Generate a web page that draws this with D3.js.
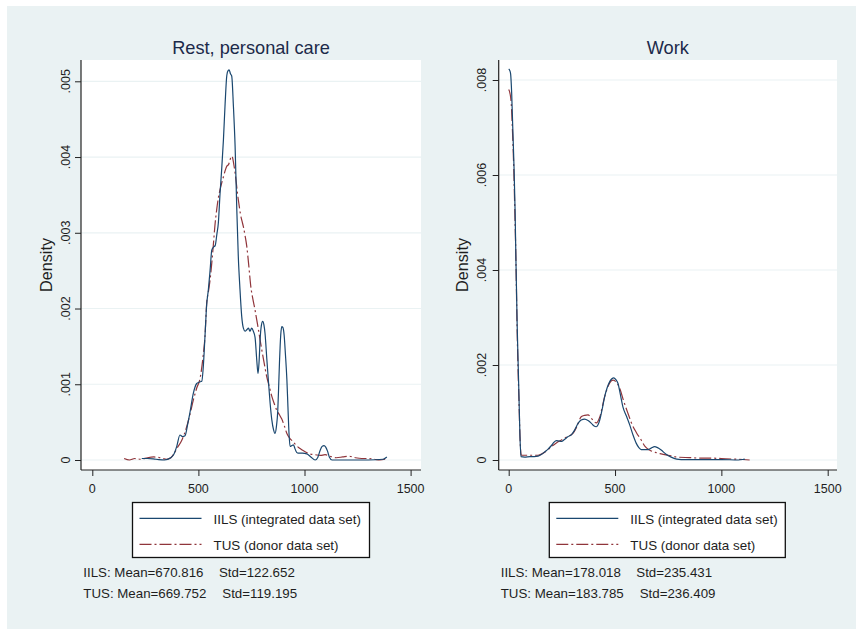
<!DOCTYPE html>
<html>
<head>
<meta charset="utf-8">
<script src="https://cdn.jsdelivr.net/npm/d3@7"></script>
<style>
  html, body { margin: 0; padding: 0; background: #ffffff; }
  svg { display: block; font-family: "Liberation Sans", Arial, sans-serif; }
</style>
</head>
<body>
<svg id="chart" width="858" height="630"></svg>
<script>
// Kernel density estimates (minutes per day) for the two activity groups.
const restIILS = [
  [233,0.00002],[260,0.00002],[300,0.00001],[340,0.00000],[370,0.00003],[385,0.00008],
  [398,0.00018],[413,0.00033],[425,0.00031],[437,0.00032],[450,0.00048],[461,0.00064],
  [476,0.00088],[492,0.00101],[505,0.00103],[516,0.00104],[523,0.00123],[531,0.00163],
  [539,0.00205],[547,0.00225],[555,0.00250],[563,0.00277],[571,0.00281],[579,0.00283],
  [587,0.00298],[594,0.00313],[602,0.00352],[610,0.00385],[618,0.00423],[626,0.00471],
  [634,0.00508],[640,0.00514],[645,0.00515],[651,0.00510],[657,0.00507],[665,0.00467],
  [673,0.00414],[681,0.00330],[688,0.00269],[696,0.00225],[704,0.00190],[712,0.00174],
  [720,0.00170],[728,0.00172],[736,0.00174],[743,0.00170],[751,0.00174],[759,0.00170],
  [767,0.00162],[775,0.00132],[781,0.00114],[786,0.00130],[791,0.00160],[797,0.00178],
  [803,0.00183],[809,0.00178],[814,0.00167],[822,0.00135],[830,0.00104],[838,0.00075],
  [846,0.00053],[854,0.00040],[861,0.00035],[868,0.00045],[874,0.00065],[878,0.00095],
  [882,0.00128],[888,0.00165],[893,0.00176],[898,0.00175],[904,0.00165],[910,0.00140],
  [917,0.00106],[922,0.00070],[927,0.00035],[932,0.00018],[940,0.00019],[948,0.00020],
  [955,0.00015],[963,0.00010],[971,0.00009],[990,0.00009],[1011,0.00008],[1030,0.00004],
  [1050,0.00000],[1062,0.00003],[1074,0.00013],[1083,0.00018],[1092,0.00019],[1100,0.00017],
  [1108,0.00012],[1117,0.00004],[1130,0.00000],[1200,0.00000],[1300,0.00000],[1370,0.00001],
  [1388,0.00004]
];
const restTUS = [
  [150,0.00002],[175,0.00000],[200,0.00002],[230,0.00001],[260,0.00003],[290,0.00004],
  [320,0.00003],[350,0.00001],[370,0.00003],[382,0.00007],[400,0.00016],[420,0.00025],
  [445,0.00044],[460,0.00060],[476,0.00079],[492,0.00095],[508,0.00108],[523,0.00139],
  [531,0.00163],[539,0.00207],[547,0.00222],[555,0.00238],[563,0.00260],[571,0.00286],
  [578,0.00310],[586,0.00330],[594,0.00346],[602,0.00357],[610,0.00366],[618,0.00374],
  [626,0.00382],[634,0.00388],[642,0.00390],[649,0.00396],[655,0.00401],[660,0.00400],
  [667,0.00390],[673,0.00379],[679,0.00365],[684,0.00352],[690,0.00340],[698,0.00325],
  [705,0.00316],[712,0.00308],[720,0.00296],[728,0.00282],[737,0.00258],[747,0.00229],
  [757,0.00212],[767,0.00198],[775,0.00185],[783,0.00172],[791,0.00158],[799,0.00145],
  [810,0.00128],[822,0.00110],[834,0.00097],[846,0.00084],[858,0.00074],[869,0.00066],
  [881,0.00060],[893,0.00054],[905,0.00045],[917,0.00035],[930,0.00029],[943,0.00025],
  [956,0.00021],[970,0.00017],[985,0.00014],[1003,0.00011],[1025,0.00008],[1050,0.00007],
  [1075,0.00006],[1097,0.00007],[1120,0.00005],[1150,0.00003],[1180,0.00004],[1210,0.00005],
  [1240,0.00003],[1270,0.00002],[1300,0.00002],[1330,0.00001],[1355,0.00000],[1380,0.00001]
];
const workIILS = [
  [0,0.00823],[5,0.00820],[9,0.00813],[14,0.00772],[19,0.00701],[25,0.00617],[30,0.00526],
  [34,0.00421],[40,0.00281],[44,0.00210],[48,0.00140],[53,0.00049],[58,0.00007],[75,0.00006],
  [100,0.00007],[120,0.00007],[138,0.00008],[155,0.00012],[169,0.00017],[185,0.00023],
  [200,0.00030],[212,0.00037],[224,0.00041],[236,0.00040],[248,0.00039],[262,0.00043],
  [278,0.00049],[294,0.00053],[310,0.00063],[326,0.00077],[341,0.00084],[357,0.00086],
  [373,0.00083],[389,0.00077],[400,0.00072],[412,0.00070],[420,0.00074],[428,0.00084],
  [440,0.00108],[451,0.00133],[463,0.00152],[475,0.00165],[485,0.00171],[494,0.00173],
  [504,0.00169],[514,0.00161],[525,0.00138],[537,0.00112],[553,0.00093],[569,0.00074],
  [585,0.00052],[600,0.00035],[612,0.00026],[623,0.00022],[640,0.00022],[655,0.00022],
  [670,0.00025],[686,0.00028],[700,0.00026],[717,0.00021],[740,0.00012],[764,0.00006],
  [790,0.00002],[811,0.00001],[900,0.00001],[1000,0.00001],[1080,0.00000],[1100,0.00001],
  [1110,0.00002]
];
const workTUS = [
  [0,0.00780],[6,0.00772],[12,0.00750],[18,0.00690],[24,0.00610],[29,0.00520],[34,0.00420],
  [39,0.00290],[44,0.00190],[48,0.00130],[53,0.00050],[58,0.00012],[60,0.00010],[90,0.00010],
  [120,0.00010],[138,0.00010],[160,0.00014],[180,0.00020],[200,0.00028],[224,0.00036],
  [248,0.00042],[275,0.00049],[302,0.00056],[320,0.00070],[341,0.00091],[357,0.00094],
  [373,0.00095],[392,0.00086],[412,0.00078],[428,0.00090],[451,0.00133],[470,0.00158],
  [491,0.00168],[507,0.00163],[522,0.00151],[540,0.00125],[561,0.00098],[580,0.00075],
  [600,0.00058],[623,0.00042],[642,0.00028],[662,0.00021],[690,0.00016],[717,0.00013],
  [750,0.00010],[795,0.00006],[850,0.00005],[900,0.00004],[952,0.00004],[1000,0.00003],
  [1050,0.00002],[1100,0.00001],[1133,0.00000]
];

const xTicks = [0, 500, 1000, 1500];
const restYTicks = [0, 0.001, 0.002, 0.003, 0.004, 0.005];
const workYTicks = [0, 0.002, 0.004, 0.006, 0.008];
const panelTitles = ["Rest, personal care", "Work"];
const legendLabels = ["IILS (integrated data set)", "TUS (donor data set)"];
const restStats = [["IILS: Mean=670.816", "Std=122.652"], ["TUS: Mean=669.752", "Std=119.195"]];
const workStats = [["IILS: Mean=178.018", "Std=235.431"], ["TUS: Mean=183.785", "Std=236.409"]];

const C = {
  bg: "#eaf2f3", grid: "#eaf2f3", navy: "#1a476f", maroon: "#90353b",
  title: "#1c2a4a", text: "#1e1e1e", axis: "#222222"
};
const DASH = "12,3,2,3";

const svg = d3.select("#chart");
svg.append("rect").attr("x", 7).attr("y", 6).attr("width", 849).attr("height", 623).attr("fill", C.bg);

function fmtTick(d) {
  return d === 0 ? "0" : d3.format(".3f")(d).replace(/^0/, "");
}

function drawPanel(p) {
  const g = svg.append("g");
  const x = d3.scaleLinear().domain([0, 1500]).range([p.x0, p.x1500]);
  const y = d3.scaleLinear().domain([0, p.yTicks[p.yTicks.length - 1]]).range([p.yZero, p.yTop]);

  // plot region
  g.append("rect").attr("x", p.left).attr("y", p.top)
    .attr("width", p.right - p.left).attr("height", p.bottom - p.top).attr("fill", "#ffffff");

  // gridlines
  g.selectAll("line.grid").data(p.yTicks).join("line")
    .attr("x1", p.left).attr("x2", p.right)
    .attr("y1", d => y(d)).attr("y2", d => y(d))
    .attr("stroke", C.grid).attr("stroke-width", 1.2);

  // y axis
  const ya = g.append("g").attr("transform", `translate(${p.left},0)`)
    .call(d3.axisLeft(y).tickValues(p.yTicks).tickSize(6).tickSizeOuter(0).tickFormat(""));
  ya.select(".domain").remove();
  ya.selectAll("line").attr("stroke", C.axis);
  g.append("line").attr("x1", p.left).attr("x2", p.left).attr("y1", p.top).attr("y2", p.bottom)
    .attr("stroke", C.axis).attr("stroke-width", 1.2);
  g.selectAll("text.ytick").data(p.yTicks).join("text")
    .attr("class", "ytick")
    .attr("transform", d => `translate(${p.yLabelX},${y(d)}) rotate(-90)`)
    .attr("text-anchor", "middle").attr("font-size", 12.5).attr("fill", C.text)
    .text(fmtTick);

  // x axis
  const xa = g.append("g").attr("transform", `translate(0,${p.bottom})`)
    .call(d3.axisBottom(x).tickValues(xTicks).tickSize(6).tickSizeOuter(0).tickFormat(""));
  xa.select(".domain").remove();
  xa.selectAll("line").attr("stroke", C.axis);
  g.append("line").attr("x1", p.left).attr("x2", p.right).attr("y1", p.bottom).attr("y2", p.bottom)
    .attr("stroke", C.axis).attr("stroke-width", 1.2);
  g.selectAll("text.xtick").data(xTicks).join("text")
    .attr("class", "xtick")
    .attr("x", d => x(d)).attr("y", 492.5)
    .attr("text-anchor", "middle").attr("font-size", 12.5).attr("fill", C.text)
    .text(d => d);

  // axis title and panel title
  g.append("text")
    .attr("transform", `translate(${p.densX},${(p.top + p.bottom) / 2}) rotate(-90)`)
    .attr("text-anchor", "middle").attr("font-size", 16.2).attr("fill", C.text)
    .text("Density");
  g.append("text").attr("x", (p.left + p.right) / 2).attr("y", 54)
    .attr("text-anchor", "middle").attr("font-size", 18.2).attr("fill", C.title)
    .text(p.title);

  // density curves
  const line = d3.line().x(d => x(d[0])).y(d => y(d[1])).curve(d3.curveMonotoneX);
  g.append("path").datum(p.tus).attr("d", line)
    .attr("fill", "none").attr("stroke", C.maroon).attr("stroke-width", 1.2)
    .attr("stroke-dasharray", DASH);
  g.append("path").datum(p.iils).attr("d", line)
    .attr("fill", "none").attr("stroke", C.navy).attr("stroke-width", 1.2);

  // legend
  const lg = g.append("g");
  lg.append("rect").attr("x", p.legX).attr("y", 502.5).attr("width", p.legW).attr("height", 55)
    .attr("fill", "#ffffff").attr("stroke", "#111111").attr("stroke-width", 1.3);
  const legRows = [
    { label: legendLabels[0], color: C.navy, dash: null, y: 518.3 },
    { label: legendLabels[1], color: C.maroon, dash: DASH, y: 544.3 }
  ];
  legRows.forEach(r => {
    lg.append("line").attr("x1", p.legX + 7).attr("x2", p.legX + 69)
      .attr("y1", r.y).attr("y2", r.y)
      .attr("stroke", r.color).attr("stroke-width", 1.3)
      .attr("stroke-dasharray", r.dash);
    lg.append("text").attr("x", p.legX + 81).attr("y", r.y + 5.5)
      .attr("font-size", 13.4).attr("fill", C.text).text(r.label);
  });

  // summary statistics
  p.stats.forEach((s, i) => {
    const yy = i === 0 ? 577.3 : 597.7;
    g.append("text").attr("x", p.statX).attr("y", yy).attr("font-size", 13.3).attr("fill", C.text).text(s[0]);
    g.append("text").attr("x", p.stdX[i]).attr("y", yy).attr("font-size", 13.3).attr("fill", C.text).text(s[1]);
  });
}

drawPanel({
  title: panelTitles[0], iils: restIILS, tus: restTUS, yTicks: restYTicks, stats: restStats,
  left: 81, right: 421, top: 60, bottom: 470,
  x0: 92.3, x1500: 410.6, yZero: 460, yTop: 81.3,
  yLabelX: 70, densX: 52, legX: 132.5, legW: 237, statX: 83.3, stdX: [219, 222.3]
});
drawPanel({
  title: panelTitles[1], iils: workIILS, tus: workTUS, yTicks: workYTicks, stats: workStats,
  left: 498.7, right: 837, top: 60, bottom: 470,
  x0: 508.7, x1500: 827.7, yZero: 460, yTop: 80,
  yLabelX: 485.5, densX: 468, legX: 549.3, legW: 236, statX: 500.7, stdX: [636.3, 639.7]
});
</script>
</body>
</html>
